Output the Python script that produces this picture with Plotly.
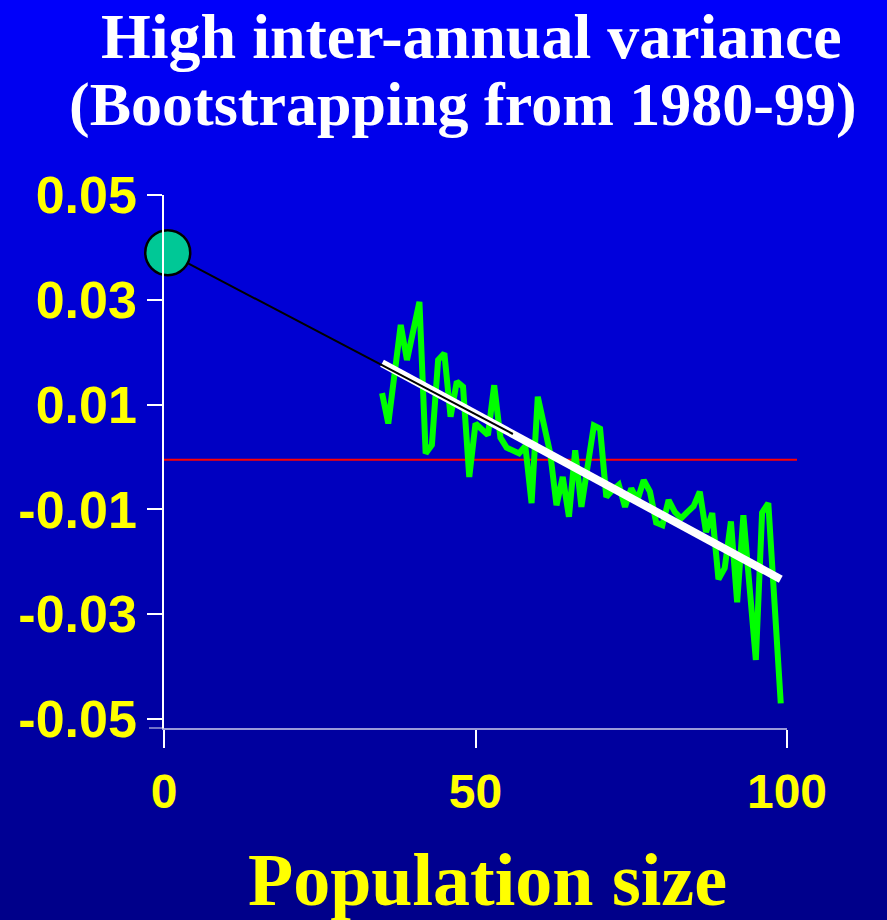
import plotly.graph_objects as go

# population size and mean growth rate
pop_size = list(range(35, 100))
growth_rate = [
    0.0122, 0.0064, 0.0158, 0.0252, 0.0185, 0.0240, 0.0296, 0.0007, 0.0023, 0.0185,
    0.0198, 0.0077, 0.0144, 0.0134, -0.0038, 0.0064, 0.0053, 0.0042, 0.0137, 0.0037,
    0.0018, 0.0012, 0.0007, 0.0021, -0.0088, 0.0115, 0.0058, 0.0007, -0.0092, -0.0038,
    -0.0114, 0.0013, -0.0095, -0.0018, 0.0060, 0.0054, -0.0076, -0.0063, -0.0053, -0.0095,
    -0.0060, -0.0082, -0.0044, -0.0066, -0.0125, -0.0130, -0.0082, -0.0105, -0.0117, -0.0105,
    -0.0094, -0.0066, -0.0143, -0.0107, -0.0233, -0.0212, -0.0123, -0.0277, -0.0111, -0.0249,
    -0.0387, -0.0106, -0.0088, -0.0279, -0.0470,
]

# smoothed trend
trend_x = [35, 40, 45, 50, 55, 60, 65, 70, 75, 80, 85, 90, 95, 99]
trend_y = [0.0179, 0.0147, 0.0114, 0.0083, 0.0049, 0.0019, -0.0015, -0.0046, -0.0078,
           -0.0112, -0.0143, -0.0174, -0.0209, -0.0233]

# extrapolation back to zero population
extrap_x = [0.6, 56]
extrap_y = [0.039, 0.0044]

zero_level = -0.0005

x_ticks = [0, 50, 100]
y_ticks = [0.05, 0.03, 0.01, -0.01, -0.03, -0.05]
y_tick_text = ['0.05', '0.03', '0.01', '-0.01', '-0.03', '-0.05']

W, H = 887, 920
L, R, T, B = 164, 787, 195, 728


def px(xp):
    return (xp - L) / (R - L)


def py(yp):
    return (B - yp) / (B - T)


# background gradient stripes
shapes = []
n = 46
for i in range(n):
    y0 = i * H / n
    y1 = (i + 1) * H / n + 1
    f = (i + 0.5) / n
    b = int(252 - 115 * f)
    shapes.append(dict(
        type='rect', xref='paper', yref='paper', layer='below',
        x0=px(0), x1=px(W), y0=py(y1), y1=py(y0),
        fillcolor=f'rgb(0,0,{b})', line=dict(width=0),
    ))

shapes.append(dict(
    type='line', xref='paper', yref='y', layer='below',
    x0=0, x1=px(797), y0=zero_level, y1=zero_level,
    line=dict(color='#FF0000', width=2),
))
shapes.append(dict(
    type='line', xref='paper', yref='paper',
    x0=px(149), x1=0, y0=0, y1=0,
    line=dict(color='rgba(255,255,255,0.6)', width=1.5),
))

fig = go.Figure([
    go.Scatter(
        x=pop_size, y=growth_rate, mode='lines',
        line=dict(color='#00FF00', width=6),
    ),
    go.Scatter(
        x=trend_x, y=trend_y, mode='lines',
        line=dict(color='white', width=8),
    ),
    go.Scatter(
        x=extrap_x, y=extrap_y, mode='lines',
        line=dict(color='black', width=2),
    ),
    go.Scatter(
        x=[extrap_x[0]], y=[extrap_y[0]], mode='markers', cliponaxis=False,
        marker=dict(size=45, color='#00C896', line=dict(color='black', width=2.5)),
    ),
])

fig.update_layout(
    width=W,
    height=H,
    showlegend=False,
    margin=dict(l=L, r=W - R, t=T, b=H - B, autoexpand=False),
    paper_bgcolor='#0000C0',
    plot_bgcolor='rgba(0,0,0,0)',
    shapes=shapes,
    xaxis=dict(
        range=[0, 100],
        tickvals=x_ticks,
        ticks='outside', ticklen=18, tickwidth=1.5, tickcolor='white',
        showline=True, linecolor='rgba(255,255,255,0.6)', linewidth=1.5,
        showgrid=False, zeroline=False,
        ticklabelstandoff=3,
        tickfont=dict(family='Liberation Sans', size=48, color='#FFFF00', weight='bold'),
    ),
    yaxis=dict(
        range=[-0.0517, 0.05],
        tickvals=y_ticks,
        ticktext=y_tick_text,
        ticks='outside', ticklen=15, tickwidth=1.5, tickcolor='white',
        showline=True, linecolor='white', linewidth=1.5,
        showgrid=False, zeroline=False,
        ticklabelstandoff=0,
        tickfont=dict(family='Liberation Sans', size=52, color='#FFFF00', weight='bold'),
    ),
    annotations=[
        dict(text='High inter-annual variance', xref='paper', yref='paper',
             x=px(471), y=py(36), xanchor='center', yanchor='middle', showarrow=False,
             font=dict(family='Liberation Serif', size=64, color='white', weight='bold')),
        dict(text='(Bootstrapping from 1980-99)', xref='paper', yref='paper',
             x=px(463), y=py(104), xanchor='center', yanchor='middle', showarrow=False,
             font=dict(family='Liberation Serif', size=62, color='white', weight='bold')),
        dict(text='Population size', xref='paper', yref='paper',
             x=px(487), y=py(880), xanchor='center', yanchor='middle', showarrow=False,
             font=dict(family='Liberation Serif', size=74, color='#FFFF00', weight='bold')),
    ],
)

fig.write_html('out.html', config={'displayModeBar': False},
               post_script="document.body.style.margin='0';")
